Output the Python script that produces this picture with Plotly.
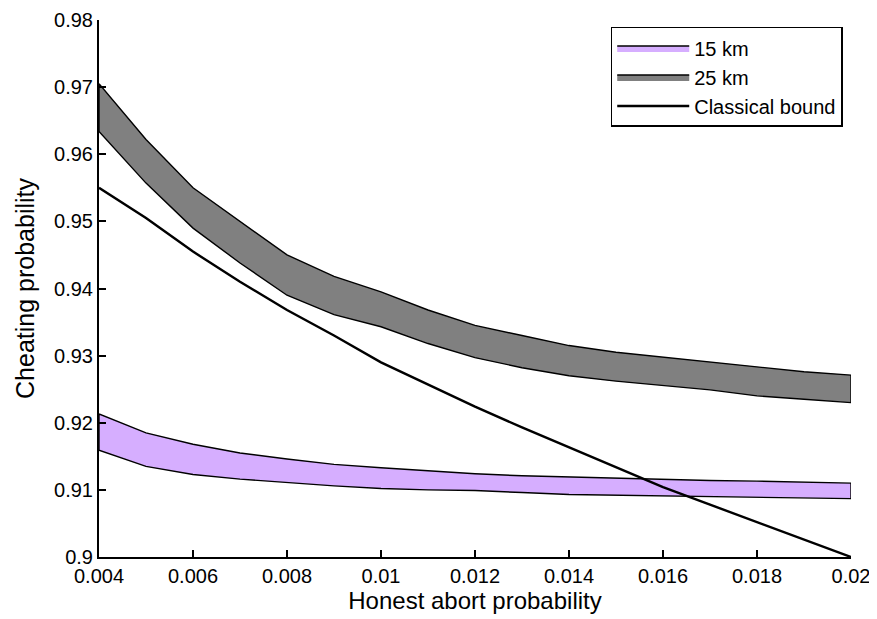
import plotly.graph_objects as go

x_vals = [0.004, 0.005, 0.006, 0.007, 0.008, 0.009, 0.010, 0.011, 0.012,
          0.013, 0.014, 0.015, 0.016, 0.017, 0.018, 0.019, 0.020]

km15_upper = [0.9213, 0.9185, 0.9168, 0.9155, 0.9146, 0.9138, 0.9133, 0.9128, 0.9124,
              0.9121, 0.9119, 0.9117, 0.9115, 0.9114, 0.9113, 0.9112, 0.9110]
km15_lower = [0.9159, 0.9135, 0.9123, 0.9116, 0.9111, 0.9106, 0.9102, 0.9100, 0.9099,
              0.9096, 0.9093, 0.9092, 0.9090, 0.9090, 0.9089, 0.9088, 0.9087]

km25_upper = [0.9705, 0.9622, 0.9550, 0.9500, 0.9450, 0.9418, 0.9395, 0.9368, 0.9345,
              0.9330, 0.9315, 0.9305, 0.9298, 0.9290, 0.9283, 0.9276, 0.9271]
km25_lower = [0.9634, 0.9557, 0.9490, 0.9438, 0.9390, 0.9361, 0.9343, 0.9318, 0.9297,
              0.9282, 0.9270, 0.9262, 0.9255, 0.9249, 0.9240, 0.9235, 0.9230]

classical = [0.9550, 0.9505, 0.9455, 0.9410, 0.9368, 0.9330, 0.9290, 0.9257, 0.9224,
             0.9193, 0.9163, 0.9134, 0.9104, 0.9078, 0.9052, 0.9026, 0.9000]

x_ticks = [0.004, 0.006, 0.008, 0.01, 0.012, 0.014, 0.016, 0.018, 0.02]
x_tick_labels = ["0.004", "0.006", "0.008", "0.01", "0.012", "0.014", "0.016", "0.018", "0.02"]
y_ticks = [0.9, 0.91, 0.92, 0.93, 0.94, 0.95, 0.96, 0.97, 0.98]
y_tick_labels = ["0.9", "0.91", "0.92", "0.93", "0.94", "0.95", "0.96", "0.97", "0.98"]

FONT = "Liberation Sans, Arial, sans-serif"

fig = go.Figure()


def band(upper, lower, name, color):
    xs = list(x_vals) + list(reversed(x_vals)) + [x_vals[0]]
    ys = list(upper) + list(reversed(lower)) + [upper[0]]
    return go.Scatter(x=xs, y=ys, mode="lines", fill="toself", fillcolor=color,
                      line=dict(color="black", width=1.4), name=name, hoverinfo="skip")


fig.add_trace(band(km15_upper, km15_lower, "15 km", "#D6AEFF"))
fig.add_trace(band(km25_upper, km25_lower, "25 km", "#808080"))
fig.add_trace(go.Scatter(x=x_vals, y=classical, mode="lines", name="Classical bound",
                         line=dict(color="black", width=2.4)))

fig.update_layout(
    width=877, height=619,
    margin=dict(l=91, r=34, t=12, b=70, autoexpand=False),
    paper_bgcolor="white", plot_bgcolor="white",
    font=dict(family=FONT, size=20, color="black"),
    showlegend=True,
    legend=dict(x=0.989, y=0.987, xanchor="right", yanchor="top",
                bordercolor="black", borderwidth=1.5, bgcolor="white",
                font=dict(family=FONT, size=20, color="black"),
                itemwidth=72, tracegroupgap=0),
    xaxis=dict(range=[0.004, 0.02], tickvals=x_ticks, ticktext=x_tick_labels,
               automargin=False,
               showgrid=False, zeroline=False, showline=True, linecolor="black", linewidth=2,
               ticks="inside", ticklen=7, tickcolor="black", tickwidth=1.5, mirror=False,
               title=dict(text="Honest abort probability", font=dict(size=24), standoff=4),
               tickfont=dict(size=20)),
    yaxis=dict(range=[0.9, 0.98], tickvals=y_ticks, ticktext=y_tick_labels,
               automargin=False,
               showgrid=False, zeroline=False, showline=True, linecolor="black", linewidth=2,
               ticks="inside", ticklen=7, tickcolor="black", tickwidth=1.5, mirror=False,
               title=dict(text="Cheating probability", font=dict(size=25), standoff=12),
               tickfont=dict(size=20)),
)

fig.write_html("out.html")
